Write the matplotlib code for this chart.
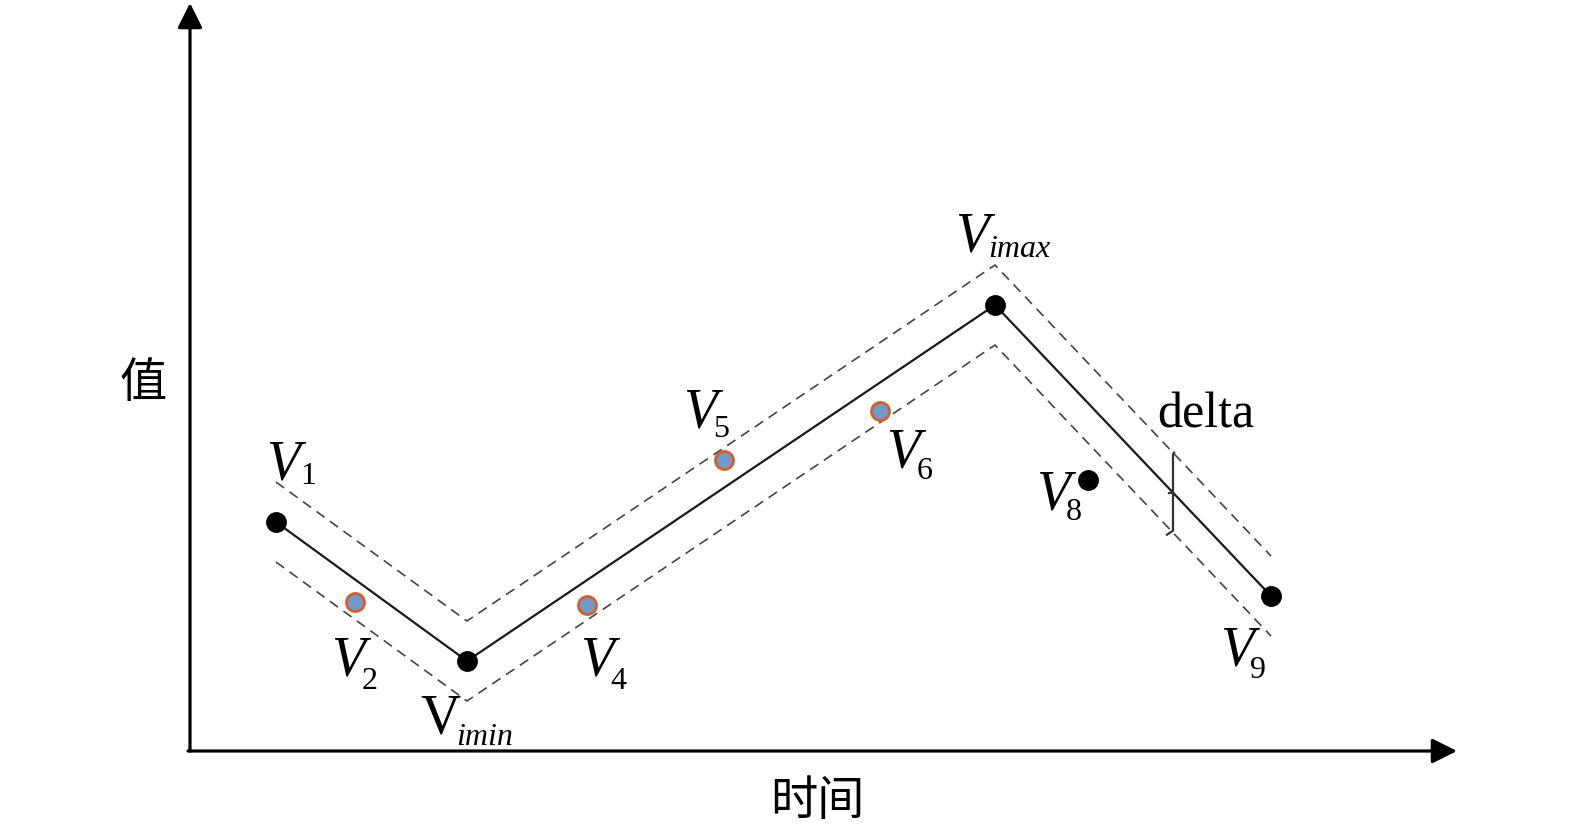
import matplotlib
matplotlib.use("Agg")
import matplotlib.pyplot as plt

# ---- data (time, value) ----
path_t = [0.86, 2.77, 8.05, 10.81]          # V1, Vimin, Vimax, V9
path_v = [2.29, 0.90, 4.46, 1.55]
delta = 0.40
kept_t = [8.98]                              # V8 (outside band, kept)
kept_v = [2.71]
drop_t = [1.65, 3.97, 5.34, 6.90]            # V2, V4, V5, V6 (inside band)
drop_v = [1.49, 1.46, 2.91, 3.40]

W, H = 1575, 833
fig = plt.figure(figsize=(W / 100, H / 100), dpi=100)
ax = fig.add_axes([0, 0, 1, 1])
ax.set_xlim(-1.90, (W - 190) / 100)
ax.set_ylim(-(H - 751) / 100, 7.51)
ax.axis("off")

def tx(px):
    return (px - 190) / 100

def ty(py):
    return (751 - py) / 100

# axes with arrows
ax.annotate("", xy=(0, ty(3)), xytext=(0, 0),
            arrowprops=dict(arrowstyle="-|>", lw=2.3, color="black",
                            mutation_scale=38, shrinkA=0, shrinkB=0))
ax.annotate("", xy=(tx(1457), 0), xytext=(-0.02, 0),
            arrowprops=dict(arrowstyle="-|>", lw=2.3, color="black",
                            mutation_scale=38, shrinkA=0, shrinkB=0))

# band
ax.plot(path_t, [v + delta for v in path_v], color="#444444", lw=1.2,
        dashes=(6, 4), zorder=2)
ax.plot(path_t, [v - delta for v in path_v], color="#444444", lw=1.2,
        dashes=(6, 4), zorder=2)
# main path
ax.plot(path_t, path_v, color="#1a1a1a", lw=1.6, zorder=3)
ax.plot(path_t, path_v, "o", color="black", ms=14, zorder=4, lw=0)
ax.plot(kept_t, kept_v, "o", color="black", ms=14, zorder=4, lw=0)
ax.plot(drop_t, drop_v, "o", color="#7199c9", mec="#d2602a", mew=2.0,
        ms=13, zorder=4, lw=0)

# delta bracket
bt = 9.83
slope = (path_v[3] - path_v[2]) / (path_t[3] - path_t[2])
bv = path_v[2] + slope * (bt - path_t[2])
ax.plot([bt - 0.06, bt, bt, bt + 0.01], [bv - delta - 0.02, bv - delta + 0.02,
        bv + delta - 0.02, bv + delta], color="#333333", lw=1.6, zorder=5)
ax.plot([bt - 0.04, bt], [bv, bv], color="#333333", lw=1.6, zorder=5)

serif = "Liberation Serif"
big = 40
small = 23

def vlabel(vx, vy, sx, sy, sub, v_italic=True, sub_italic=False):
    ax.text(tx(vx), ty(vy), "V", fontsize=big, family=serif,
            style="italic" if v_italic else "normal", ha="left", va="baseline")
    ax.text(tx(sx), ty(sy), sub, fontsize=small, family=serif,
            style="italic" if sub_italic else "normal", ha="left", va="baseline")

vlabel(266, 480, 300, 484, "1")
vlabel(331, 675, 362, 689, "2")
vlabel(420, 733, 456, 745, "imin", v_italic=False, sub_italic=True)
vlabel(580, 675, 610, 689, "4")
vlabel(683, 427, 713, 437, "5")
vlabel(886, 467, 917, 479, "6")
vlabel(1036, 510, 1066, 520, "8")
vlabel(1220, 666, 1250, 678, "9")
vlabel(955, 251, 988, 257, "imax", sub_italic=True)

ax.text(tx(1157), ty(427), "delta", fontsize=36, family=serif,
        ha="left", va="baseline")

cjk = ["Noto Sans CJK SC", "DejaVu Sans"]
ax.text(tx(143), ty(384), "值", fontsize=34, family=cjk, ha="center", va="center")
ax.text(tx(817), ty(802), "时间", fontsize=34, family=cjk, ha="center", va="center")

fig.savefig("out.png", dpi=100, facecolor="white")
